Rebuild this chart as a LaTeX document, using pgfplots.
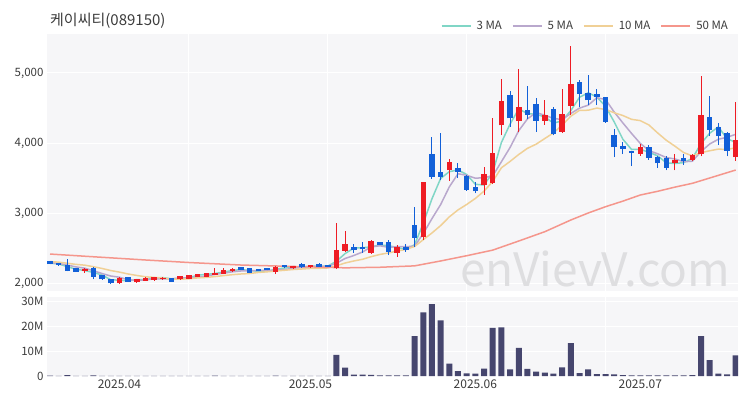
\documentclass[border=0pt]{standalone}
\usepackage{pgfplots}
\usepackage{pgfplotstable}
\pgfplotsset{compat=1.18}
\usetikzlibrary{backgrounds}
\usepackage{fontspec}
\setmainfont{Noto Sans CJK KR}
\definecolor{cred}{RGB}{238,28,36}
\definecolor{cblue}{RGB}{18,96,216}
\definecolor{volc}{RGB}{70,70,110}
\definecolor{maA}{RGB}{128,214,198}
\definecolor{maB}{RGB}{185,168,205}
\definecolor{maC}{RGB}{240,208,150}
\definecolor{maD}{RGB}{245,150,140}
\definecolor{bgp}{RGB}{246,246,248}
\definecolor{txt}{RGB}{60,60,60}
\definecolor{wm}{RGB}{222,222,224}

\pgfplotstableread{
x o h l c
4 2176 2209 2150 2200
8 1995 2080 1990 2076
10 2010 2055 2005 2052
11 2033 2080 2030 2076
12 2040 2085 2035 2081
13 2062 2090 2050 2076
15 2052 2105 2045 2100
16 2062 2115 2060 2109
17 2090 2130 2080 2124
18 2090 2140 2085 2138
19 2114 2219 2110 2147
20 2128 2210 2125 2186
21 2166 2210 2160 2205
26 2162 2240 2128 2233
28 2209 2250 2205 2243
30 2224 2262 2220 2257
33 2210 2860 2200 2470
34 2460 2750 2450 2560
37 2430 2610 2420 2600
40 2430 2540 2375 2520
43 2660 3440 2620 3440
46 3614 3766 3460 3733
50 3400 3660 3260 3560
51 3430 4350 3420 3860
52 4250 4910 4110 4600
54 4320 5050 4160 4510
57 4320 4610 4260 4400
59 4160 4770 4150 4420
60 4530 5380 4400 4840
68 3850 3980 3820 3950
72 3720 3840 3610 3760
74 3760 3840 3750 3830
75 3840 4950 3810 4400
79 3800 4590 3750 4040
}\up

\pgfplotstableread{
x o h l c
0 2310 2320 2265 2270
1 2280 2290 2250 2258
2 2257 2338 2165 2171
3 2209 2215 2160 2162
5 2219 2225 2052 2090
6 2114 2118 2050 2052
7 2052 2055 1990 1995
9 2081 2085 2015 2019
14 2067 2070 2015 2020
22 2224 2230 2180 2186
23 2209 2215 2140 2147
24 2200 2205 2165 2171
25 2209 2215 2180 2185
27 2257 2262 2220 2224
29 2266 2280 2215 2224
31 2266 2285 2228 2233
32 2257 2262 2228 2233
35 2520 2560 2430 2470
36 2520 2590 2430 2480
38 2580 2590 2545 2550
39 2590 2620 2400 2450
41 2520 2560 2450 2470
42 2830 3080 2520 2650
44 3850 4090 3490 3520
45 3590 4140 3470 3520
47 3640 3710 3500 3590
48 3530 3540 3320 3330
49 3370 3450 3280 3310
53 4690 4740 4230 4350
55 4470 4820 4340 4400
56 4560 4640 4160 4320
58 4480 4510 4110 4130
61 4870 4900 4510 4700
62 4710 4970 4540 4610
63 4700 4770 4540 4660
64 4650 4660 4290 4300
65 4110 4200 3800 3940
66 3960 4020 3840 3920
67 3880 3880 3670 3860
69 3950 3970 3760 3790
70 3800 3820 3650 3710
71 3790 3810 3610 3650
73 3780 3850 3690 3750
76 4370 4670 4100 4190
77 4230 4290 3970 4100
78 4150 4160 3810 3890
}\down

\pgfplotstableread{
x m3 m5 m10
0 2283 2290 2306
1 2273 2282 2298
2 2233 2256 2282
3 2197 2230 2266
4 2178 2212 2255
5 2151 2176 2233
6 2114 2135 2208
7 2046 2100 2178
8 2041 2083 2156
9 2030 2046 2129
10 2049 2039 2108
11 2049 2044 2089
12 2070 2061 2080
13 2078 2061 2072
14 2059 2061 2054
15 2065 2071 2055
16 2076 2077 2060
17 2111 2086 2073
18 2124 2098 2080
19 2136 2124 2092
20 2157 2141 2106
21 2179 2160 2119
22 2192 2172 2129
23 2179 2174 2136
24 2168 2179 2151
25 2168 2179 2160
26 2196 2184 2172
27 2214 2192 2182
28 2233 2211 2193
29 2230 2222 2200
30 2241 2236 2208
31 2238 2236 2210
32 2241 2238 2215
33 2312 2283 2247
34 2421 2351 2286
35 2500 2393 2315
36 2503 2443 2339
37 2517 2516 2377
38 2543 2532 2408
39 2533 2510 2430
40 2507 2520 2457
41 2480 2518 2480
42 2547 2528 2522
43 2853 2706 2619
44 3203 2920 2715
45 3493 3120 2820
46 3591 3373 2945
47 3614 3561 3044
48 3551 3539 3122
49 3410 3497 3208
50 3400 3505 3312
51 3577 3530 3451
52 4007 3732 3646
53 4270 3936 3737
54 4487 4176 3836
55 4420 4344 3924
56 4410 4436 3983
57 4373 4396 4064
58 4283 4352 4144
59 4317 4334 4255
60 4463 4422 4383
61 4653 4498 4467
62 4717 4540 4468
63 4657 4646 4499
64 4523 4622 4478
65 4300 4442 4432
66 4053 4286 4392
67 3907 4136 4338
68 3910 3994 4320
69 3867 3892 4257
70 3817 3846 4144
71 3717 3792 4039
72 3707 3772 3954
73 3720 3732 3863
74 3780 3740 3816
75 3993 3878 3862
76 4140 3986 3889
77 4230 4054 3913
78 4060 4082 3907
79 4010 4124 3932
}\ma

\pgfplotstableread{
x v
0 0.2
1 0.1
2 0.4
3 0.1
4 0.1
5 0.3
6 0.1
7 0.1
8 0.1
9 0.1
10 0.1
11 0.1
12 0.1
13 0.1
14 0.1
15 0.1
16 0.1
17 0.1
18 0.1
19 0.2
20 0.1
21 0.1
22 0.1
23 0.1
24 0.1
25 0.1
26 0.2
27 0.1
28 0.1
29 0.1
30 0.1
31 0.1
32 0.1
33 8.5
34 3.4
35 0.6
36 0.6
37 0.5
38 0.3
39 0.3
40 0.3
41 0.3
42 16.0
43 25.5
44 28.8
45 22.3
46 5.0
47 2.0
48 1.1
49 1.0
50 3.0
51 19.3
52 19.5
53 2.7
54 11.3
55 2.9
56 1.8
57 1.4
58 1.0
59 3.5
60 13.2
61 1.2
62 2.7
63 0.8
64 0.8
65 0.7
66 0.4
67 0.3
68 0.3
69 0.3
70 0.3
71 0.3
72 0.3
73 0.3
74 0.4
75 16.0
76 6.4
77 1.0
78 0.7
79 8.3
}\vol

\pgfplotsset{
  candle/.style 2 args={forget plot, draw=none, mark=none,
    error bars/.cd, y dir=plus, y explicit, error mark=none,
    error bar style={line width=#1, draw=#2}},
}

\begin{document}
\begin{tikzpicture}[x=1pt,y=1pt]

\begin{axis}[
  name=vol,
  at={(0,0)}, anchor=south west, scale only axis,
  width=691pt, height=79pt,
  xmin=-0.35, xmax=79.26, ymin=0, ymax=31.6,
  axis background/.style={fill=bgp},
  axis line style={draw=none},
  major tick length=0pt,
  xtick={8,30,49,68}, xticklabels={2025.04,2025.05,2025.06,2025.07},
  extra x ticks={16,32,48,64}, extra x tick labels={},
  extra x tick style={grid=major},
  ytick={0,10,20,30}, yticklabels={0,10M,20M,30M},
  ymajorgrids,
  grid style={white, line width=1pt},
  /pgf/number format/assume math mode=true,
  yticklabel style={font=\fontsize{11.5}{13}\selectfont, text=txt},
  xticklabel style={font=\fontsize{12}{14}\selectfont, text=txt},
]
\addplot[ybar, bar width=6pt, fill=volc, draw=none] table[x=x,y=v]{\vol};
\end{axis}

\begin{axis}[
  name=top,
  at={(vol.north west)}, anchor=south west, yshift=6pt, scale only axis,
  width=691pt, height=257pt,
  xmin=-0.35, xmax=79.26, ymin=1886, ymax=5557,
  axis background/.style={fill=bgp},
  axis line style={draw=none},
  major tick length=0pt,
  xtick={16,32,48,64}, xticklabels={},
  ytick={2000,3000,4000,5000},
  xmajorgrids, ymajorgrids,
  grid style={white, line width=1pt},
  /pgf/number format/assume math mode=true,
  yticklabel style={font=\fontsize{11.5}{13}\selectfont, text=txt},
  legend style={at={(rel axis cs:0.993,1.0)}, anchor=east, yshift=8pt,
    draw=none, fill=none, legend columns=4,
    font=\fontsize{11.5}{13}\selectfont, text=txt,
    /tikz/every odd column/.append style={column sep=3pt},
    /tikz/every even column/.append style={column sep=8pt}},
  legend image code/.code={\draw[#1, line width=1.8pt, opacity=1] (0pt,0pt) -- (29pt,0pt);},
]
\node[font=\fontsize{46}{50}\selectfont, text=wm] at (axis cs:62.8,2200) {enVievV.com};

\addplot[color=maA, line width=1.5pt] table[x=x,y=m3]{\ma};
\addlegendentry{3 MA}
\addplot[color=maB, line width=1.5pt] table[x=x,y=m5]{\ma};
\addlegendentry{5 MA}
\addplot[color=maC, line width=1.5pt] table[x=x,y=m10]{\ma};
\addlegendentry{10 MA}
\addplot[color=maD, line width=1.5pt] coordinates {
(0,2414)(5,2375)(11,2329)(16,2293)(22,2257)(28,2237)(34,2217)(38,2225)(42,2245)(45,2315)(48,2390)(51,2470)(54,2600)(57,2733)(60,2900)(62,3000)(64,3090)(66,3170)(68,3257)(70,3310)(72,3370)(74,3424)(76,3500)(79,3614)};
\addlegendentry{50 MA}

\addplot[candle={1pt}{cred}] table[x=x, y=l, y error expr={\thisrow{h}-\thisrow{l}}]{\up};
\addplot[candle={1pt}{cblue}] table[x=x, y=l, y error expr={\thisrow{h}-\thisrow{l}}]{\down};
\addplot[candle={5.5pt}{cred}] table[x=x, y=o, y error expr={\thisrow{c}-\thisrow{o}}]{\up};
\addplot[candle={5.5pt}{cblue}] table[x=x, y=c, y error expr={\thisrow{o}-\thisrow{c}}]{\down};
\end{axis}

\node[anchor=west, font=\fontsize{15}{18}\selectfont, text=txt, inner sep=0pt] at ([shift={(3pt,13pt)}]top.north west) {케이씨티(089150)};

\pgfresetboundingbox
\path[use as bounding box] ([shift={(-47pt,-24pt)}]vol.south west) rectangle ++(750,400);
\begin{pgfonlayer}{background}
\fill[white] ([shift={(-47pt,-24pt)}]vol.south west) rectangle ++(750,400);
\end{pgfonlayer}
\end{tikzpicture}
\end{document}
